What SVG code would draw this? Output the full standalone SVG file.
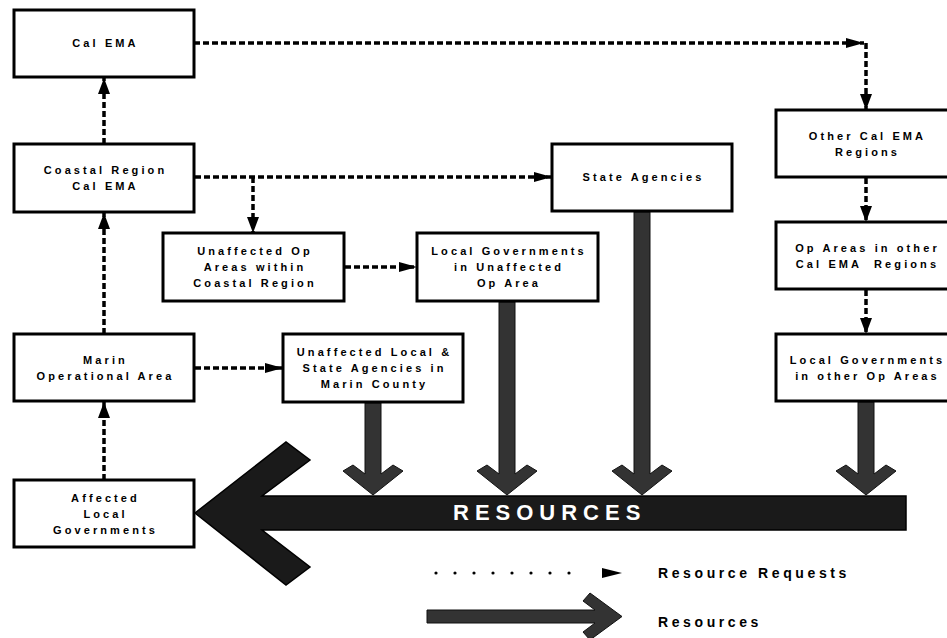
<svg xmlns="http://www.w3.org/2000/svg" width="947" height="638" viewBox="0 0 947 638">
<style>
.box{fill:#fff;stroke:#000;stroke-width:3}
.t{font-family:"Liberation Sans",Arial,sans-serif;font-weight:bold;font-size:11px;letter-spacing:3.1px;fill:#000;text-anchor:middle}
.req{fill:none;stroke:#000;stroke-width:3.5;stroke-dasharray:6 3}
.res{fill:#333;stroke:#111;stroke-width:1}
.leg{font-family:"Liberation Sans",Arial,sans-serif;font-weight:bold;font-size:14px;letter-spacing:3.6px;fill:#000}
</style>
<defs>
<marker id="hv" viewBox="0 0 16 12" refX="16" refY="6" markerWidth="16" markerHeight="12" markerUnits="userSpaceOnUse" orient="auto"><path d="M0,0 L16,6 L0,12 Z" fill="#000"/></marker>
<marker id="hh" viewBox="0 0 18 10" refX="18" refY="5" markerWidth="18" markerHeight="10" markerUnits="userSpaceOnUse" orient="auto"><path d="M0,0 L18,5 L0,10 Z" fill="#000"/></marker>
</defs>
<g id="connectors">
<line class="req" x1="104" y1="144" x2="104" y2="78" marker-end="url(#hv)"/>
<line class="req" x1="104" y1="334" x2="104" y2="213" marker-end="url(#hv)"/>
<line class="req" x1="104" y1="480" x2="104" y2="402" marker-end="url(#hv)"/>
<line class="req" x1="194" y1="43" x2="864" y2="43" marker-end="url(#hh)"/>
<line class="req" x1="866" y1="43" x2="866" y2="110" marker-end="url(#hv)"/>
<line class="req" x1="866" y1="178" x2="866" y2="222" marker-end="url(#hv)"/>
<line class="req" x1="866" y1="290" x2="866" y2="334" marker-end="url(#hv)"/>
<line class="req" x1="195" y1="177" x2="552" y2="177" marker-end="url(#hh)"/>
<line class="req" x1="253" y1="177" x2="253" y2="233" marker-end="url(#hv)"/>
<line class="req" x1="345" y1="267" x2="417" y2="267" marker-end="url(#hh)"/>
<line class="req" x1="195" y1="368" x2="283" y2="368" marker-end="url(#hh)"/>
<path id="bigarrow" d="M906,496 L262,496 L310,460 L286,442 L195,513 L286,585 L310,567 L262,530 L906,530 Z" fill="#1a1a1a" stroke="#000" stroke-width="1.5"/>
<path class="res" d="M365,403 L381,403 L381,474 L393,465 L403,471 L373,495 L343,471 L353,465 L365,474 Z"/>
<path class="res" d="M499,302 L515,302 L515,474 L527,465 L537,471 L507,495 L477,471 L487,465 L499,474 Z"/>
<path class="res" d="M634,212 L650,212 L650,474 L662,465 L672,471 L642,495 L612,471 L622,465 L634,474 Z"/>
<path class="res" d="M858,402 L874,402 L874,474 L886,465 L896,471 L866,495 L836,471 L846,465 L858,474 Z"/>
<text x="453" y="520" font-family="Liberation Sans,Arial,sans-serif" font-weight="bold" font-size="22" letter-spacing="6" fill="#fff">RESOURCES</text>
</g>
<g id="n-calema"><rect class="box" x="14" y="10" width="180" height="67"/><text class="t" x="105.5" y="47">Cal EMA</text></g>
<g id="n-coastal"><rect class="box" x="14" y="144" width="180" height="68"/><text class="t" x="105.5" y="174">Coastal Region</text><text class="t" x="105.5" y="190">Cal EMA</text></g>
<g id="n-unaffop"><rect class="box" x="163" y="233" width="181" height="68"/><text class="t" x="255" y="255">Unaffected Op</text><text class="t" x="255" y="271">Areas within</text><text class="t" x="255" y="287">Coastal Region</text></g>
<g id="n-localunaff"><rect class="box" x="417" y="233" width="181" height="68"/><text class="t" x="509" y="255">Local Governments</text><text class="t" x="509" y="271">in Unaffected</text><text class="t" x="509" y="287">Op Area</text></g>
<g id="n-state"><rect class="box" x="552" y="144" width="180" height="67"/><text class="t" x="643.5" y="181">State Agencies</text></g>
<g id="n-other"><rect class="box" x="776" y="110" width="180" height="67"/><text class="t" x="867.5" y="140">Other Cal EMA</text><text class="t" x="867.5" y="156">Regions</text></g>
<g id="n-opareas"><rect class="box" x="776" y="222" width="180" height="67"/><text class="t" x="867.5" y="252">Op Areas in other</text><text class="t" x="867.5" y="268" xml:space="preserve">Cal EMA  Regions</text></g>
<g id="n-localother"><rect class="box" x="776" y="334" width="180" height="67"/><text class="t" x="867.5" y="364">Local Governments</text><text class="t" x="867.5" y="380">in other Op Areas</text></g>
<g id="n-unafflocal"><rect class="box" x="283" y="334" width="180" height="68"/><text class="t" x="374.5" y="356">Unaffected Local &amp;</text><text class="t" x="374.5" y="372">State Agencies in</text><text class="t" x="374.5" y="388">Marin County</text></g>
<g id="n-marin"><rect class="box" x="14" y="334" width="180" height="67"/><text class="t" x="105.5" y="364">Marin</text><text class="t" x="105.5" y="380">Operational Area</text></g>
<g id="n-affected"><rect class="box" x="14" y="480" width="180" height="67"/><text class="t" x="105.5" y="501.5">Affected</text><text class="t" x="105.5" y="517.5">Local</text><text class="t" x="105.5" y="533.5">Governments</text></g>
<g id="legend">
<line x1="436" y1="573" x2="588" y2="573" stroke="#000" stroke-width="3.2" stroke-linecap="round" stroke-dasharray="0 19"/>
<path d="M602,568 L622,573 L602,578 Z" fill="#000"/>
<text class="leg" x="658" y="578">Resource Requests</text>
<path class="res" d="M427,610 L595,610 L583,601 L590,593 L622,616.5 L590,640 L583,632 L595,623 L427,623 Z"/>
<text class="leg" x="658" y="627">Resources</text>
</g>
</svg>
